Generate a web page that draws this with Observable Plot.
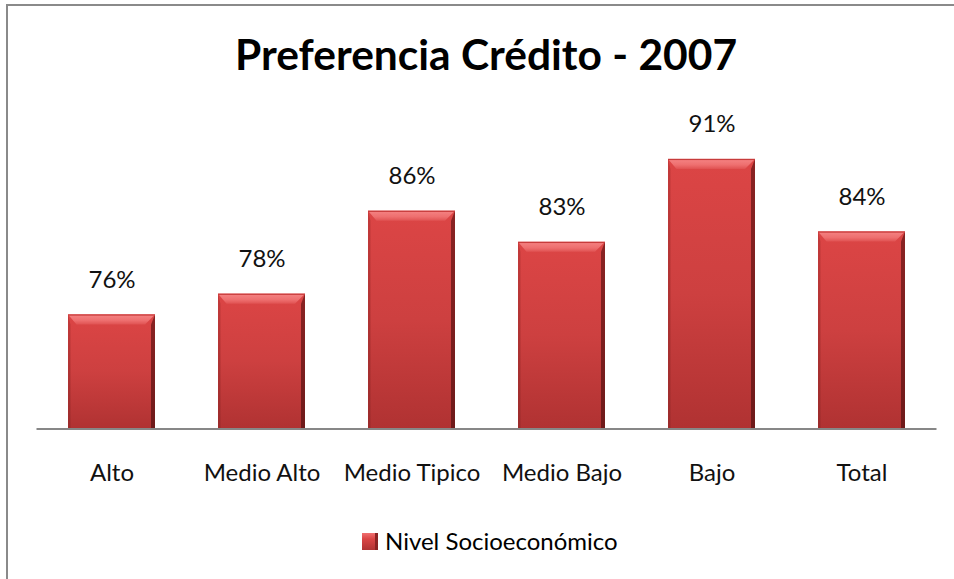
<!DOCTYPE html>
<html>
<head>
<meta charset="utf-8">
<script src="https://cdn.jsdelivr.net/npm/d3@7"></script>
<script src="https://cdn.jsdelivr.net/npm/@observablehq/plot@0.6"></script>
<style>
  html, body { margin: 0; padding: 0; background: #fff; }
  #wrap { position: relative; width: 954px; height: 579px; overflow: hidden; font-family: Lato, "Open Sans", sans-serif; }
  #frame { position: absolute; left: 6px; top: 4px; right: -10px; bottom: -10px; border-top: 2px solid #8a8a8a; border-left: 2px solid #8a8a8a; }
  #chart { position: absolute; left: 0; top: 0; }
  #title { position: absolute; left: 0; width: 972px; top: 33px; text-align: center; font-weight: 700; font-size: 42.5px; line-height: 1; color: #000; white-space: nowrap; }
  #legend { position: absolute; left: 362px; top: 529px; display: flex; align-items: center; font-size: 24px; line-height: 1; color: #000; }
  #legend svg { margin-right: 7px; }
</style>
</head>
<body>
<div id="wrap">
  <div id="frame"></div>
  <div id="chart"></div>
  <div id="title">Preferencia Crédito - 2007</div>
  <div id="legend"></div>
</div>
<script>
const categories = ["Alto", "Medio Alto", "Medio Tipico", "Medio Bajo", "Bajo", "Total"];
const values = [76, 78, 86, 83, 91, 84];
const valueLabels = ["76%", "78%", "86%", "83%", "91%", "84%"];
const seriesName = "Nivel Socioeconómico";
const yDomain = [65, 95];

const data = categories.map((c, i) => ({cat: c, value: values[i], label: valueLabels[i]}));

const chart = Plot.plot({
  width: 954,
  height: 579,
  marginLeft: 36.5,
  marginRight: 17.5,
  marginTop: 117.4,
  marginBottom: 150.5,
  style: {fontFamily: "Lato, 'Open Sans', sans-serif", background: "transparent", overflow: "visible"},
  x: {domain: categories, paddingInner: 0.42, paddingOuter: 0.21},
  y: {domain: yDomain, axis: null},
  marks: [
    Plot.barY(data, {x: "cat", y1: yDomain[0], y2: "value", fill: "url(#barBody)"}),
    Plot.ruleY([yDomain[0]], {stroke: "#878787", strokeWidth: 2}),
    Plot.text(data, {x: "cat", y: "value", text: "label", lineAnchor: "bottom", dy: -27, fontSize: 24, fill: "#111"}),
    Plot.axisX({tickSize: 0, tickPadding: 34.5, fontSize: 24, label: null, fill: "#111"})
  ]
});

// gradients
const svg = d3.select(chart);
const defs = svg.insert("defs", ":first-child");
function vgrad(id, stops) {
  const g = defs.append("linearGradient").attr("id", id).attr("x1", 0).attr("y1", 0).attr("x2", 0).attr("y2", 1);
  stops.forEach(([o, c]) => g.append("stop").attr("offset", o).attr("stop-color", c));
}
vgrad("barBody", [[0, "#dc4545"], [0.5, "#cd4040"], [1, "#b03232"]]);
vgrad("barTop", [[0, "#f58484"], [0.6, "#ee6f6f"], [1, "#e05252"]]);
vgrad("barRight", [[0, "#8a2323"], [1, "#6e1a1a"]]);
vgrad("barLeft", [[0, "#c43a3a"], [1, "#9c2b2b"]]);

// bevel decoration derived from the rendered bars
svg.selectAll("g[aria-label='bar'] rect").each(function() {
  const r = d3.select(this);
  const x = +r.attr("x"), y = +r.attr("y"), w = +r.attr("width"), h = +r.attr("height");
  const g = d3.select(this.parentNode);
  const b = 10, rw = 4, lw = 2.5;
  g.append("polygon").attr("points", `${x},${y} ${x + lw},${y + b} ${x + lw},${y + h} ${x},${y + h}`).attr("fill", "url(#barLeft)");
  g.append("polygon").attr("points", `${x + w},${y} ${x + w},${y + h} ${x + w - rw},${y + h} ${x + w - rw},${y + b}`).attr("fill", "url(#barRight)");
  g.append("polygon").attr("points", `${x},${y} ${x + w},${y} ${x + w - rw - 6},${y + b} ${x + lw + 6},${y + b}`).attr("fill", "url(#barTop)");
  g.append("rect").attr("x", x).attr("y", y).attr("width", w).attr("height", 1.2).attr("fill", "#c73b3b");
});

document.getElementById("chart").appendChild(chart);

// legend
const leg = d3.select("#legend");
const sw = leg.append("svg").attr("width", 16).attr("height", 18);
const ld = sw.append("defs");
const lg = ld.append("linearGradient").attr("id", "legGrad").attr("x1", 0).attr("y1", 0).attr("x2", 0).attr("y2", 1);
[[0, "#f07070"], [0.35, "#da4545"], [1, "#b03333"]].forEach(([o, c]) => lg.append("stop").attr("offset", o).attr("stop-color", c));
sw.append("rect").attr("x", 0).attr("y", 1).attr("width", 16).attr("height", 17).attr("fill", "url(#legGrad)");
sw.append("rect").attr("x", 13).attr("y", 1).attr("width", 3).attr("height", 17).attr("fill", "#8a2323");
leg.append("span").text(seriesName);
</script>
</body>
</html>
